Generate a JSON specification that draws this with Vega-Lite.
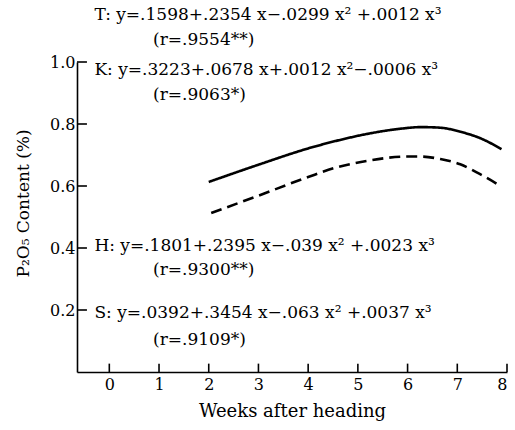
{
  "$schema": "https://vega.github.io/schema/vega-lite/v6.json",
  "width": 430,
  "height": 310,
  "autosize": {"type": "none"},
  "padding": {"left": 77, "top": 62, "right": 8, "bottom": 58},
  "background": "white",
  "config": {
    "view": {"stroke": null},
    "font": "DejaVu Serif",
    "axis": {
      "grid": false,
      "ticks": false,
      "domainColor": "black",
      "domainWidth": 1.6,
      "labelColor": "black",
      "labelFont": "DejaVu Serif",
      "labelFontSize": 16,
      "titleColor": "black",
      "titleFont": "DejaVu Serif",
      "titleFontWeight": "normal"
    }
  },
  "layer": [
    {
      "data": {
        "values": [
          {"week": 2.0, "p2o5": 0.613, "series": "upper"},
          {"week": 2.97, "p2o5": 0.667, "series": "upper"},
          {"week": 4.06, "p2o5": 0.724, "series": "upper"},
          {"week": 4.55, "p2o5": 0.745, "series": "upper"},
          {"week": 5.22, "p2o5": 0.769, "series": "upper"},
          {"week": 5.87, "p2o5": 0.785, "series": "upper"},
          {"week": 6.27, "p2o5": 0.79, "series": "upper"},
          {"week": 6.66, "p2o5": 0.788, "series": "upper"},
          {"week": 7.06, "p2o5": 0.775, "series": "upper"},
          {"week": 7.45, "p2o5": 0.755, "series": "upper"},
          {"week": 7.89, "p2o5": 0.719, "series": "upper"},
          {"week": 2.05, "p2o5": 0.513, "series": "lower"},
          {"week": 2.97, "p2o5": 0.567, "series": "lower"},
          {"week": 4.0, "p2o5": 0.629, "series": "lower"},
          {"week": 4.55, "p2o5": 0.659, "series": "lower"},
          {"week": 5.22, "p2o5": 0.682, "series": "lower"},
          {"week": 6.0, "p2o5": 0.695, "series": "lower"},
          {"week": 6.27, "p2o5": 0.695, "series": "lower"},
          {"week": 6.66, "p2o5": 0.687, "series": "lower"},
          {"week": 7.06, "p2o5": 0.67, "series": "lower"},
          {"week": 7.45, "p2o5": 0.639, "series": "lower"},
          {"week": 7.89, "p2o5": 0.598, "series": "lower"}
        ]
      },
      "mark": {"type": "line", "interpolate": "monotone", "strokeWidth": 2.6, "color": "black"},
      "encoding": {
        "x": {
          "field": "week",
          "type": "quantitative",
          "scale": {"domain": [-0.65, 8], "nice": false, "zero": false},
          "axis": {
            "values": [0, 1, 2, 3, 4, 5, 6, 7, 8],
            "format": "d",
            "labelPadding": 4,
            "title": "Weeks after heading",
            "titleFontSize": 18,
            "titlePadding": 10
          }
        },
        "y": {
          "field": "p2o5",
          "type": "quantitative",
          "scale": {"domain": [0, 1], "nice": false, "zero": false},
          "axis": {
            "values": [0.2, 0.4, 0.6, 0.8, 1.0],
            "format": ".1f",
            "labelPadding": 2,
            "title": "P₂O₅ Content (%)",
            "titleFontSize": 17,
            "titleX": -45,
            "titleY": 141,
            "titleAnchor": null
          }
        },
        "strokeDash": {
          "field": "series",
          "type": "nominal",
          "scale": {"domain": ["upper", "lower"], "range": [[1, 0], [11, 6]]},
          "legend": null
        }
      }
    },
    {
      "data": {"values": [{"tick": 0.2}, {"tick": 0.4}, {"tick": 0.6}, {"tick": 0.8}, {"tick": 1.0}]},
      "mark": {"type": "rule", "color": "black", "strokeWidth": 1.6},
      "encoding": {
        "y": {"field": "tick", "type": "quantitative"},
        "x": {"datum": -0.65},
        "x2": {"datum": -0.45}
      }
    },
    {
      "data": {"values": [{"tick": 0}, {"tick": 1}, {"tick": 2}, {"tick": 3}, {"tick": 4}, {"tick": 5}, {"tick": 6}, {"tick": 7}, {"tick": 8}]},
      "mark": {"type": "rule", "color": "black", "strokeWidth": 1.6},
      "encoding": {
        "x": {"field": "tick", "type": "quantitative"},
        "y": {"datum": 0},
        "y2": {"datum": 0.027}
      }
    },
    {
      "data": {
        "values": [
          {"x": -0.3, "y": 1.152, "label": "T: y=.1598+.2354 x−.0299 x² +.0012 x³"},
          {"x": 0.88, "y": 1.071, "label": "(r=.9554**)"},
          {"x": -0.3, "y": 0.974, "label": "K: y=.3223+.0678 x+.0012 x²−.0006 x³"},
          {"x": 0.88, "y": 0.894, "label": "(r=.9063*)"},
          {"x": -0.3, "y": 0.406, "label": "H: y=.1801+.2395 x−.039 x²  +.0023 x³"},
          {"x": 0.88, "y": 0.329, "label": "(r=.9300**)"},
          {"x": -0.3, "y": 0.19, "label": "S: y=.0392+.3454 x−.063 x²  +.0037 x³"},
          {"x": 0.88, "y": 0.103, "label": "(r=.9109*)"}
        ]
      },
      "mark": {"type": "text", "align": "left", "baseline": "middle", "fontSize": 17, "font": "DejaVu Serif", "color": "black"},
      "encoding": {
        "x": {"field": "x", "type": "quantitative"},
        "y": {"field": "y", "type": "quantitative"},
        "text": {"field": "label"}
      }
    }
  ]
}
